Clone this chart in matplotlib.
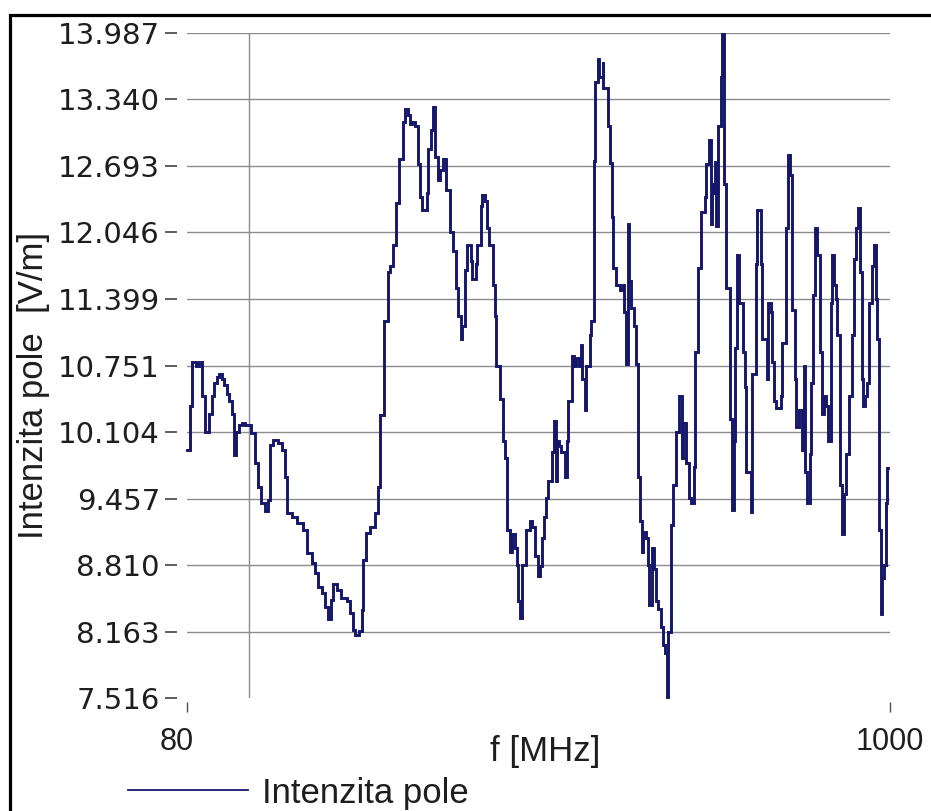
import matplotlib
matplotlib.use("Agg")
import matplotlib.pyplot as plt
import matplotlib.transforms as mtransforms
from matplotlib.ticker import FixedLocator, FixedFormatter, NullFormatter
from matplotlib.lines import Line2D
from matplotlib.patches import Rectangle

# Field strength sweep (stepped measurement), frequency in MHz, field in V/m
freq_mhz = [
    80.0, 80.9, 81.4, 82.6, 83.5, 84.4, 85.3, 86.6, 87.5, 88.1,
    89.1, 89.7, 90.7, 91.4, 92.3, 93.0, 94.0, 94.7, 95.4, 96.4,
    97.5, 98.5, 100.7, 102.1, 103.2, 104.3, 105.9, 107.0, 107.8, 108.9,
    110.9, 112.5, 113.7, 114.5, 116.6, 118.7, 121.3, 123.1, 125.3, 126.7,
    128.0, 129.9, 131.3, 132.7, 134.2, 135.1, 137.1, 139.1, 142.1, 143.6,
    145.2, 146.2, 148.3, 149.9, 150.5, 152.1, 154.3, 157.1, 158.8, 159.9,
    162.3, 164.6, 165.8, 167.6, 169.4, 171.2, 173.7, 175.0, 176.9, 178.1,
    179.4, 181.4, 183.3, 184.6, 186.0, 189.3, 190.0, 192.1, 193.5, 194.9,
    197.0, 198.4, 201, 203, 206, 208, 210, 212, 214, 215,
    217, 219, 222, 223, 226, 227, 230, 231, 233, 235,
    237, 240, 242, 243, 246, 249, 251, 253, 255, 257,
    260, 262, 263, 265, 267, 270, 274, 276, 279, 282,
    284, 286, 288, 291, 293, 297, 299, 301, 302, 305,
    307, 311, 313, 315, 319, 321, 324, 327, 329, 331,
    334, 336, 340, 342, 345, 347, 350, 352, 356, 357,
    363, 366, 368, 370, 374, 379, 383, 384, 387, 390,
    392, 395, 398, 401, 404, 408, 410, 411, 416, 419,
    420, 425, 428, 432, 435, 440, 443, 446, 448, 451,
    456, 459, 463, 469, 473, 476, 481, 485, 490, 494,
    497, 501, 508, 514, 517, 521, 525, 528, 530, 534,
    536, 540, 544, 546, 550, 554, 562, 566, 570, 574,
    578, 582, 589, 593, 597, 606, 610, 617, 621, 628,
    632, 642, 644, 651, 655, 658, 665, 677, 679, 687,
    692, 699, 702, 704, 712, 714, 722, 730, 733, 738,
    741, 749, 754, 759, 765, 770, 779, 784, 790, 796,
    801, 810, 813, 819, 825, 828, 837, 843, 849, 855,
    864, 873, 880, 886, 892, 899, 905, 909, 915, 922,
    928, 938, 945, 952, 955, 962, 969, 973, 980, 987,
    990, 994,
]
field_vm = [
    9.93, 10.36, 10.79, 10.75, 10.79, 10.45, 10.10, 10.28, 10.45, 10.58,
    10.64, 10.67, 10.62, 10.56, 10.47, 10.41, 10.28, 9.88, 10.10, 10.17,
    10.19, 10.17, 10.09, 9.80, 9.57, 9.41, 9.34, 9.44, 9.98, 10.03,
    10.00, 9.93, 9.67, 9.32, 9.28, 9.22, 9.15, 8.93, 8.83, 8.73,
    8.60, 8.54, 8.40, 8.28, 8.47, 8.63, 8.57, 8.49, 8.46, 8.34,
    8.18, 8.13, 8.17, 8.37, 8.86, 9.12, 9.18, 9.32, 9.57, 10.27,
    11.18, 11.66, 11.72, 11.92, 12.33, 12.76, 13.12, 13.25, 13.19, 13.10,
    13.12, 13.08, 12.71, 12.39, 12.26, 12.43, 12.86, 13.04, 13.27, 12.78,
    12.56, 12.65, 12.76, 12.46, 12.05, 11.87, 11.51, 11.23, 11.01, 11.14,
    11.68, 11.92, 11.77, 11.59, 11.74, 11.92, 12.30, 12.41, 12.35, 12.09,
    11.92, 11.53, 11.23, 10.75, 10.43, 10.02, 9.85, 9.15, 8.94, 9.11,
    8.98, 8.81, 8.46, 8.29, 8.81, 9.15, 9.24, 9.18, 8.90, 8.70,
    8.80, 9.07, 9.28, 9.46, 9.63, 9.91, 10.21, 9.63, 10.02, 9.97,
    9.91, 9.67, 10.02, 10.41, 10.84, 10.75, 10.82, 10.75, 10.95, 10.62,
    10.32, 10.75, 11.05, 11.18, 12.74, 13.51, 13.73, 13.56, 13.70, 13.45,
    13.08, 12.72, 12.20, 11.70, 11.53, 11.49, 11.53, 11.27, 10.77, 12.13,
    11.57, 11.31, 11.14, 10.77, 9.67, 9.24, 8.94, 9.13, 9.07, 8.81,
    8.42, 8.98, 8.77, 8.46, 8.38, 8.21, 8.03, 7.95, 7.53, 8.16,
    9.20, 9.59, 10.10, 10.45, 9.85, 10.19, 9.80, 9.46, 9.41, 9.76,
    10.88, 11.70, 12.25, 12.39, 12.71, 12.95, 12.13, 12.52, 12.43, 12.73,
    12.11, 13.08, 13.56, 13.98, 12.52, 11.51, 10.23, 9.35, 10.02, 10.92,
    11.83, 11.36, 10.88, 10.54, 9.72, 9.33, 10.67, 11.74, 12.26, 11.74,
    11.01, 10.62, 11.36, 11.27, 10.79, 10.41, 10.34, 10.45, 10.97, 12.09,
    12.80, 12.61, 12.09, 11.29, 10.62, 10.15, 10.32, 9.93, 10.75, 9.72,
    9.41, 9.89, 10.58, 11.44, 12.09, 11.83, 10.88, 10.28, 10.45, 10.36,
    10.02, 11.36, 11.83, 11.53, 11.40, 11.05, 9.59, 9.11, 9.50, 9.89,
    10.45, 11.05, 11.79, 12.09, 12.28, 11.66, 10.62, 10.36, 10.45, 10.58,
    11.36, 11.72, 11.92, 11.40, 11.01, 9.15, 8.33, 8.68, 8.81, 9.41,
    9.75, 9.75,
]

y_ticks = [7.516, 8.163, 8.810, 9.457, 10.104, 10.751, 11.399,
           12.046, 12.693, 13.340, 13.987]
x_ticks = [80, 1000]
x_grid = [80, 100]
series_name = "Intenzita pole"
x_label = "f [MHz]"
y_label = "Intenzita pole  [V/m]"

line_color = "#16166a"
grid_color = "#8c8c8c"
tick_color = "#505050"
text_color = "#1e1e1e"

plt.rcParams["font.family"] = ["Liberation Sans", "DejaVu Sans"]

W, H = 931, 811
fig = plt.figure(figsize=(W / 100, H / 100), dpi=100)
fig.patch.set_facecolor("white")

ax = fig.add_axes([187 / W, 1 - 698 / H, 703 / W, 665 / H])
ax.plot(freq_mhz, field_vm, drawstyle="steps-post", color=line_color,
        lw=2.1, solid_joinstyle="miter", clip_on=False)

ax.set_xscale("log")
ax.set_xlim(80, 1000)
ax.set_ylim(y_ticks[0], y_ticks[-1])

# x axis: labelled ends, grid lines at 80 and 100 MHz
ax.xaxis.set_major_locator(FixedLocator(x_ticks))
ax.xaxis.set_major_formatter(FixedFormatter([str(v) for v in x_ticks]))
ax.xaxis.set_minor_locator(FixedLocator(x_grid))
ax.xaxis.set_minor_formatter(NullFormatter())

ax.yaxis.set_major_locator(FixedLocator(y_ticks))
ax.yaxis.set_major_formatter(FixedFormatter([f"{v:.3f}" for v in y_ticks]))

for s in ax.spines.values():
    s.set_visible(False)
ax.spines["left"].set_position(("outward", 7))
ax.spines["bottom"].set_position(("outward", 3))

ax.grid(True, axis="y", which="major", color=grid_color, lw=1.0)
ax.grid(True, axis="x", which="minor", color=grid_color, lw=1.0)
ax.grid(False, axis="x", which="major")
ax.set_axisbelow(True)

ax.tick_params(axis="y", which="major", direction="out", length=9, width=1.3,
               color=tick_color, pad=3.5, labelsize=21,
               labelfontfamily="DejaVu Sans", labelcolor=text_color)
ax.tick_params(axis="x", which="major", direction="out", length=7, width=1.0,
               color=tick_color, pad=11, labelsize=22, labelcolor=text_color)
ax.tick_params(axis="x", which="minor", length=0)

fig.canvas.draw()
# no horizontal rule along the bottom edge
ax.yaxis.get_gridlines()[0].set_visible(False)

# shift the "80" label slightly left of its tick
lbls = ax.get_xticklabels()
lbls[0].set_transform(lbls[0].get_transform() +
                      mtransforms.ScaledTranslation(-10 / 100, 0, fig.dpi_scale_trans))

ax.set_xlabel(x_label, fontsize=25, color=text_color, va="center")
ax.xaxis.set_label_coords(0.51, -0.08)
ax.set_ylabel(y_label, fontsize=25, color=text_color, va="center")
ax.yaxis.set_label_coords(-0.218, 0.47)

handle = Line2D([], [], color=line_color, lw=1.3)
fig.legend([handle], [series_name], loc="center left",
           bbox_to_anchor=(128 / W, 1 - 793 / H), frameon=False,
           fontsize=25, handlelength=3.45, handletextpad=0.42,
           borderpad=0, borderaxespad=0, labelcolor=text_color)

# outer frame of the figure
fig.patches.append(Rectangle((10 / W, -0.05), 1.1, 0.05 + 1 - 15 / H,
                             transform=fig.transFigure, fill=False,
                             edgecolor="black", lw=2.3))

fig.savefig("out.png", dpi=100, facecolor="white")
